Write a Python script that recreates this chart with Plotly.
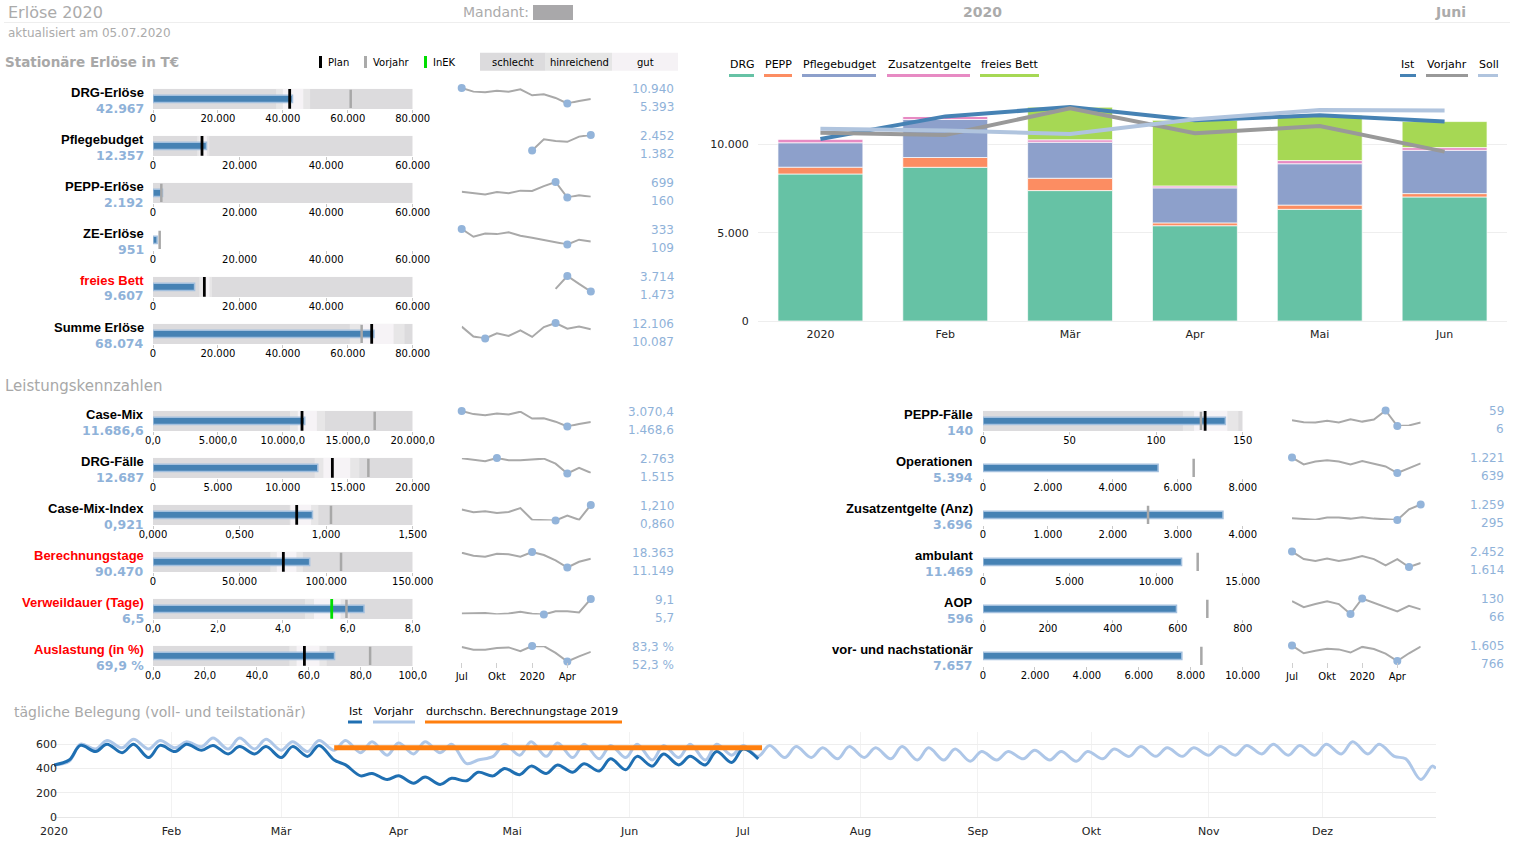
import numpy as np
import pandas as pd
import plotly.graph_objects as go

W, H = 1524, 850

# ------------------------------------------------------------------ data
spark_months = ["Jul", "Aug", "Sep", "Okt", "Nov", "Dez", "Jan", "Feb", "Mär", "Apr", "Mai", "Jun"]
spark_tick_idx = [0, 3, 6, 9]
spark_tick_text = ["Jul", "Okt", "2020", "Apr"]

# --- Stationäre Erlöse in T€
erl_names = ["DRG-Erlöse", "Pflegebudget", "PEPP-Erlöse", "ZE-Erlöse", "freies Bett", "Summe Erlöse"]
erl_red = [False, False, False, False, True, False]
erl_actual = [42967, 12357, 2192, 951, 9607, 68074]
erl_plan = [42105, 11320, None, None, 11860, 67370]
erl_vj = [60900, None, 1925, 1540, None, 64270]
erl_axmax = [80000, 60000, 60000, 60000, 60000, 80000]
erl_step = [20000, 20000, 20000, 20000, 20000, 20000]
erl_hin = [(37900, 48400), (10190, 13020), None, None, (10670, 13640), (60630, 77480)]
erl_gut = [(40000, 46300), (10750, 12450), None, None, (11270, 13050), (64000, 74110)]
erl_bg = [True, True, True, False, True, True]

spark_drg = [10940, 9642, 9406, 9996, 9642, 10468, 8320, 8698, 7380, 5393, 6320, 7020]
spark_pflege = [None, None, None, None, None, None, 1382, 2151, 2038, 1981, 2340, 2452]
spark_pepp = [357, 305, 264, 347, 305, 399, 385, 555, 699, 160, 240, 190]
spark_ze = [333, 221, 268, 259, 287, 236, 208, 175, 137, 109, 179, 151]
spark_fb = [None, None, None, None, None, None, None, None, 1849, 3714, 2566, 1473]
spark_summe = [11633, 10344, 10087, 10774, 10430, 11160, 10295, 11579, 12106, 11357, 11645, 11286]
erl_sparks = [spark_drg, spark_pflege, spark_pepp, spark_ze, spark_fb, spark_summe]

# --- Leistungskennzahlen (links)
lk_names = ["Case-Mix", "DRG-Fälle", "Case-Mix-Index", "Berechnungstage", "Verweildauer (Tage)", "Auslastung (in %)"]
lk_red = [False, False, False, True, True, True]
lk_actual = [11686.6, 12687, 0.921, 90470, 6.5, 69.9]
lk_plan = [11476, 13813, 0.830, 75290, 5.505, 58.3]
lk_plan_is_inek = [False, False, False, False, True, False]
lk_vj = [17073, 16586, 1.028, 108600, 5.96, 83.6]
lk_axmax = [20000, 20000, 1.5, 150000, 8, 100]
lk_step = [5000, 5000, 0.5, 50000, 2, 20]
lk_dec = [1, 0, 3, 0, 1, 1]
lk_suffix = ["", "", "", "", "", " %"]
lk_hin = [(10550, 13250), (12450, 15890), (0.79, 0.955), (67760, 86580), (4.68, 6.06), (52.5, 66.9)]
lk_gut = [(11150, 12620), (13120, 15190), (0.795, 0.913), (71530, 82820), (4.96, 5.78), (55.3, 64.1)]

spark_cm = [3070.4, 2750, 2643, 2821, 2714, 2999, 2288, 2323, 1967, 1468.6, 1718, 1931]
spark_drgf = [2738, 2636, 2508, 2763, 2585, 2585, 2636, 2712, 2304, 1515, 1974, 1566]
spark_cmi = [1.109, 1.047, 1.070, 1.031, 1.054, 1.140, 0.876, 0.868, 0.860, 0.969, 0.876, 1.210]
spark_bt = [18049, 16638, 16167, 17578, 17265, 16167, 18363, 16952, 14443, 11149, 13815, 15226]
spark_vwd = [5.93, 5.93, 6.01, 5.78, 5.93, 6.32, 5.85, 5.7, 6.40, 6.40, 6.16, 9.1]
spark_ausl = [81.2, 75.7, 75.7, 79.2, 80.5, 72.9, 83.3, 83.0, 69.5, 52.3, 62.6, 71.6]
lk_sparks = [spark_cm, spark_drgf, spark_cmi, spark_bt, spark_vwd, spark_ausl]

# --- Leistungskennzahlen (rechts)
rk_names = ["PEPP-Fälle", "Operationen", "Zusatzentgelte (Anz)", "ambulant", "AOP", "vor- und nachstationär"]
rk_actual = [140, 5394, 3696, 11469, 596, 7657]
rk_plan = [128.3, None, None, None, None, None]
rk_vj = [125.9, 6490, 2542, 12400, 691, 8408]
rk_axmax = [150, 8000, 4000, 15000, 800, 10000]
rk_step = [50, 2000, 1000, 5000, 200, 2000]
rk_hin = [(115.5, 147.5), None, None, None, None, None]
rk_gut = [(121.9, 141.1), None, None, None, None, None]
rk_bg = [True, False, False, False, False, False]

spark_peppf = [26, 19, 18, 24, 18, 29, 21, 28, 59, 6, 8, 18]
spark_op = [1221, 961, 1072, 1122, 1072, 961, 1085, 999, 887, 639, 813, 999]
spark_zeanz = [402, 338, 316, 445, 445, 381, 466, 381, 359, 295, 959, 1259]
spark_amb = [2452, 2042, 1935, 2078, 1935, 2042, 2202, 2042, 1703, 2042, 1614, 1828]
spark_aop = [119, 94, 107, 119, 107, 66, 130, 112, 97, 77, 100, 85]
spark_vn = [1605, 1185, 1319, 1433, 1395, 1223, 1529, 1414, 1166, 766, 1185, 1548]
rk_sparks = [spark_peppf, spark_op, spark_zeanz, spark_amb, spark_aop, spark_vn]

# --- Monatsverlauf 2020 (gestapelt)
bar_months = ["2020", "Feb", "Mär", "Apr", "Mai", "Jun"]
stack_names = ["DRG", "PEPP", "Pflegebudget", "Zusatzentgelte", "freies Bett"]
stack_drg = spark_drg[6:]
stack_pepp = spark_pepp[6:]
stack_pflege = spark_pflege[6:]
stack_ze = spark_ze[6:]
stack_fb = [0, 0] + spark_fb[8:]
line_ist = spark_summe[6:]
line_vorjahr = [10660, 10528, 12038, 10623, 11038, 9585]
line_soll = [10887, 10774, 10585, 11415, 11943, 11906]

# --- tägliche Belegung: Werte an Sonntagen (Tief) und Mittwochen (Hoch)
beleg_vj = [430,
            460, 600, 560, 630, 570, 640, 560, 630,            # Jan
            570, 620, 580, 650, 560, 650, 560, 640,            # Feb
            550, 620, 540, 630, 550, 630, 530, 620, 510, 610,  # Mär
            520, 620, 530, 600, 440, 470, 500, 600,            # Apr
            510, 620, 500, 610, 490, 600, 480, 590, 490, 600,  # Mai
            470, 590, 490, 600, 470, 600, 510, 590,            # Jun
            500, 590, 490, 580, 490, 570, 480, 580,            # Jul
            490, 570, 480, 580, 470, 570, 470, 560, 460, 540,  # Aug
            470, 540, 480, 550, 470, 540, 460, 540,            # Sep
            480, 560, 500, 580, 500, 570, 500, 570,            # Okt
            510, 580, 510, 590, 520, 600, 510, 590, 510, 600,  # Nov
            520, 620, 520, 600, 500, 480, 310, 420,            # Dez
            400]
beleg_ist = [430,
             470, 590, 540, 600, 530, 600, 490, 590,            # Jan
             540, 600, 550, 590, 520, 580, 520, 580,            # Feb
             490, 580, 500, 590, 470, 430, 340, 360, 310, 340,  # Mär
             280, 330, 270, 320, 300, 370, 340, 400,            # Apr
             350, 420, 360, 430, 370, 440, 380, 480, 390, 500,  # Mai
             420, 520, 430, 500, 430, 540, 450, 560,            # Jun
             480]                                               # Jul
beleg_bt2019 = 570
beleg_bt2019_span = ["2020-03-15", "2020-07-06"]
beleg_ticks = ["2020", "Feb", "Mär", "Apr", "Mai", "Jun", "Jul", "Aug", "Sep", "Okt", "Nov", "Dez"]

# ------------------------------------------------------------------ style
C_SCHLECHT = "#dcdbdd"
C_HIN = "#e7e6e7"
C_GUT = "#f6f3f6"
C_BAR = "#4682b4"
C_BAR_LINE = "#a3c0de"
C_LABEL = "#8fb2d9"
C_GREY_TXT = "#a8a8a8"
C_SPARK = "#a9a9a9"
STACK_COLORS = ["#66c2a5", "#fc8d62", "#8da0cb", "#e78ac3", "#a6d854"]
C_IST = "#4682b4"
C_VJ = "#999999"
C_SOLL = "#b0c4de"
FONT = "DejaVu Sans"
FONT_NAME = "Liberation Sans, Arial, sans-serif"

fig = go.Figure()
layout_axes = {}
annos = []
shapes = []
axis_count = [0]


def new_axes(xdom, ydom, xa, ya):
    axis_count[0] += 1
    n = axis_count[0]
    xn = "xaxis" if n == 1 else f"xaxis{n}"
    yn = "yaxis" if n == 1 else f"yaxis{n}"
    xr = "x" if n == 1 else f"x{n}"
    yr = "y" if n == 1 else f"y{n}"
    bx = dict(domain=[xdom[0] / W, xdom[1] / W], anchor=yr, showgrid=False, automargin=False,
              zeroline=False, fixedrange=True, showline=False)
    bx.update(xa)
    by = dict(domain=[1 - ydom[1] / H, 1 - ydom[0] / H], anchor=xr, showgrid=False, automargin=False,
              zeroline=False, fixedrange=True, showline=False)
    by.update(ya)
    layout_axes[xn] = bx
    layout_axes[yn] = by
    return xr, yr


def text(x, y, s, size=11, color="#000", xanchor="left", family=FONT, bold=False):
    annos.append(dict(x=x / W, y=1 - y / H, xref="paper", yref="paper",
                      text=f"<b>{s}</b>" if bold else s, showarrow=False,
                      xanchor=xanchor, yanchor="middle",
                      font=dict(size=size, color=color, family=family)))


def rect(x0, y0, x1, y1, color):
    shapes.append(dict(type="rect", xref="paper", yref="paper", x0=x0 / W, x1=x1 / W,
                       y0=1 - y1 / H, y1=1 - y0 / H, fillcolor=color, line=dict(width=0),
                       layer="above"))


def hline(x0, x1, y, color, width):
    shapes.append(dict(type="line", xref="paper", yref="paper", x0=x0 / W, x1=x1 / W,
                       y0=1 - y / H, y1=1 - y / H, line=dict(color=color, width=width)))


def fmt_de(v, dec=0, suffix=""):
    s = f"{v:,.{dec}f}"
    s = s.replace(",", "X").replace(".", ",").replace("X", ".")
    return s + suffix


def draw_bullet(top, x0, x1, axmax, step, dec, suf, actual, plan, vj, hin, gut, bg,
                plan_color="#000000"):
    tv = list(np.arange(0, axmax + step * 0.5, step))
    xr, yr = new_axes([x0, x1], [top, top + 20.3],
                      dict(range=[0, axmax], tickvals=tv, tickformat=f",.{dec}f", ticksuffix=suf,
                           ticks="outside", ticklen=3, tickcolor="#c8c8c8", ticklabelstandoff=-3,
                           tickfont=dict(size=10, color="#000", family=FONT)),
                      dict(range=[-0.5, 0.5], visible=False))
    common = dict(orientation="h", xaxis=xr, yaxis=yr, hoverinfo="skip")
    if bg:
        fig.add_trace(go.Bar(x=[axmax], y=[0], base=[0], width=[1],
                             marker=dict(color=C_SCHLECHT, line=dict(width=0)), **common))
    if hin is not None:
        fig.add_trace(go.Bar(x=[hin[1] - hin[0]], y=[0], base=[hin[0]], width=[1],
                             marker=dict(color=C_HIN, line=dict(width=0)), **common))
    if gut is not None:
        fig.add_trace(go.Bar(x=[gut[1] - gut[0]], y=[0], base=[gut[0]], width=[1],
                             marker=dict(color=C_GUT, line=dict(width=0)), **common))
    fig.add_trace(go.Bar(x=[actual], y=[0], base=[0], width=[0.36],
                         marker=dict(color=C_BAR, line=dict(color=C_BAR_LINE, width=1.5)), **common))
    if vj is not None:
        fig.add_trace(go.Scatter(x=[vj], y=[0], mode="markers", xaxis=xr, yaxis=yr, hoverinfo="skip",
                                 marker=dict(symbol="line-ns", size=13,
                                             line=dict(color="#a8a8a8", width=2.5))))
    if plan is not None:
        fig.add_trace(go.Scatter(x=[plan], y=[0], mode="markers", xaxis=xr, yaxis=yr, hoverinfo="skip",
                                 marker=dict(symbol="line-ns", size=14,
                                             line=dict(color=plan_color, width=2.8))))


def draw_spark(vals, top, x0, x1, dec, suf, lab_x, ticks_y=None):
    v = np.array([np.nan if a is None else a for a in vals], dtype=float)
    i_max, i_min = int(np.nanargmax(v)), int(np.nanargmin(v))
    vmax, vmin = v[i_max], v[i_min]
    if ticks_y is None:
        xa = dict(range=[0, 11], visible=False)
    else:
        xa = dict(range=[0, 11], visible=True, anchor="free", position=1 - ticks_y / H,
                  tickvals=spark_tick_idx, ticktext=spark_tick_text, ticks="outside",
                  ticklen=5, tickcolor="#cfcfcf", tickfont=dict(size=10, color="#000", family=FONT))
    xr, yr = new_axes([x0, x1], [top, top + 15.5], xa, dict(range=[vmin, vmax], visible=False))
    fig.add_trace(go.Scatter(x=list(range(len(v))), y=v, mode="lines", xaxis=xr, yaxis=yr,
                             line=dict(color=C_SPARK, width=2), connectgaps=False,
                             cliponaxis=False, hoverinfo="skip"))
    fig.add_trace(go.Scatter(x=[i_max, i_min], y=[vmax, vmin], mode="markers", xaxis=xr, yaxis=yr,
                             marker=dict(size=8, color="#93b4da"), cliponaxis=False, hoverinfo="skip"))
    text(lab_x, top + 0.8, fmt_de(vmax, dec, suf), size=12, color=C_LABEL, xanchor="right")
    text(lab_x, top + 18.8, fmt_de(vmin, dec, suf), size=12, color=C_LABEL, xanchor="right")


# ------------------------------------------------------------------ header
text(6, 12, "Erlöse 2020", size=16, color="#ababab")
text(6, 33, "aktualisiert am 05.07.2020", size=12, color="#ababab")
text(531, 12, "Mandant:", size=14, color="#ababab", xanchor="right")
rect(533, 5, 573, 20, "#a9a8aa")
text(982, 12, "2020", size=14, color="#ababab", xanchor="center", bold=True)
text(1450, 12, "Juni", size=14, color="#ababab", xanchor="center", bold=True)
hline(4, 1510, 22.5, "#eeeeee", 1)

# ------------------------------------------------------------------ section 1
text(3, 62, "Stationäre Erlöse in T€", size=13.5, color=C_GREY_TXT, bold=True)
rect(319, 56, 322, 68, "#000000")
text(326, 62, "Plan", size=10)
rect(364, 56, 367, 68, "#aaaaaa")
text(371, 62, "Vorjahr", size=10)
rect(424, 56, 427, 68, "#00dd00")
text(431, 62, "InEK", size=10)
rect(480, 52.7, 545.7, 70.7, C_SCHLECHT)
rect(545.7, 52.7, 612, 70.7, "#e6e6e6")
rect(612, 52.7, 678, 70.7, "#f5f2f5")
text(513, 62, "schlecht", size=10, xanchor="center")
text(579, 62, "hinreichend", size=10, xanchor="center")
text(645, 62, "gut", size=10, xanchor="center")

for k in range(6):
    top = 88.7 + 47 * k
    draw_bullet(top, 153, 412.7, erl_axmax[k], erl_step[k], 0, "", erl_actual[k], erl_plan[k],
                erl_vj[k], erl_hin[k], erl_gut[k], erl_bg[k])
    text(146, top + 3.5, erl_names[k], size=13, color="#ff0000" if erl_red[k] else "#000",
         xanchor="right", family=FONT_NAME, bold=True)
    text(146, top + 19.3, fmt_de(erl_actual[k]), size=12.5, color=C_LABEL, xanchor="right", bold=True)
    draw_spark(erl_sparks[k], 88 + 47 * k, 461.7, 590.8, 0, "", 676)

# ------------------------------------------------------------------ section 2 (links)
text(3, 386, "Leistungskennzahlen", size=15, color=C_GREY_TXT)
for k in range(6):
    top = 410.7 + 47 * k
    draw_bullet(top, 153, 412.7, lk_axmax[k], lk_step[k], lk_dec[k], lk_suffix[k], lk_actual[k],
                lk_plan[k], lk_vj[k], lk_hin[k], lk_gut[k], True,
                plan_color="#00dd00" if lk_plan_is_inek[k] else "#000000")
    text(146, top + 3.5, lk_names[k], size=13, color="#ff0000" if lk_red[k] else "#000",
         xanchor="right", family=FONT_NAME, bold=True)
    text(146, top + 19.3, fmt_de(lk_actual[k], lk_dec[k], lk_suffix[k]), size=12.5, color=C_LABEL,
         xanchor="right", bold=True)
    draw_spark(lk_sparks[k], 411 + 47 * k, 461.7, 590.8, lk_dec[k], lk_suffix[k], 676,
               ticks_y=662 if k == 5 else None)

# ------------------------------------------------------------------ section 3 (rechts)
for k in range(6):
    top = 410.7 + 47 * k
    draw_bullet(top, 983, 1242.7, rk_axmax[k], rk_step[k], 0, "", rk_actual[k], rk_plan[k],
                rk_vj[k], rk_hin[k], rk_gut[k], rk_bg[k])
    text(975, top + 3.5, rk_names[k], size=13, color="#000", xanchor="right", family=FONT_NAME, bold=True)
    text(975, top + 19.3, fmt_de(rk_actual[k]), size=12.5, color=C_LABEL, xanchor="right", bold=True)
    draw_spark(rk_sparks[k], 410.5 + 47 * k, 1292, 1420.7, 0, "", 1506,
               ticks_y=662 if k == 5 else None)

# ------------------------------------------------------------------ stacked monthly chart
xr, yr = new_axes([758, 1507], [95, 321],
                  dict(type="category", categoryorder="array", categoryarray=bar_months,
                       tickfont=dict(size=11, color="#222", family=FONT), ticks="outside", ticklen=3,
                       tickcolor="rgba(0,0,0,0)", showline=True, linecolor="#eeeeee"),
                  dict(range=[0, 12790], tickvals=[0, 5000, 10000], tickformat=",.0f", showgrid=True,
                       gridcolor="#eeeeee", tickfont=dict(size=11, color="#222", family=FONT),
                       ticks="outside", ticklen=6, tickcolor="rgba(0,0,0,0)"))
cum = np.zeros(len(bar_months))
for name, vals, col in zip(stack_names, [stack_drg, stack_pepp, stack_pflege, stack_ze, stack_fb],
                           STACK_COLORS):
    arr = np.array(vals, dtype=float)
    fig.add_trace(go.Bar(x=bar_months, y=arr, base=cum.copy(), width=0.68, name=name, xaxis=xr, yaxis=yr,
                         marker=dict(color=col, line=dict(color="rgba(255,255,255,0.7)", width=1)),
                         hoverinfo="skip"))
    cum = cum + arr
for vals, col in [(line_ist, C_IST), (line_vorjahr, C_VJ), (line_soll, C_SOLL)]:
    fig.add_trace(go.Scatter(x=bar_months, y=vals, mode="lines", xaxis=xr, yaxis=yr,
                             line=dict(color=col, width=4), hoverinfo="skip"))

leg_left = [("DRG", 729, 754), ("PEPP", 764, 792), ("Pflegebudget", 802, 876),
            ("Zusatzentgelte", 887, 970), ("freies Bett", 980, 1039)]
for (lab, a, b), col in zip(leg_left, STACK_COLORS):
    text(a - 1, 65, lab, size=11)
    hline(a, b, 75.5, col, 3)
for (lab, a, b), col in zip([("Ist", 1400, 1416), ("Vorjahr", 1426, 1468), ("Soll", 1478, 1498)],
                            [C_IST, C_VJ, C_SOLL]):
    text(a - 1, 65, lab, size=11)
    hline(a, b, 75.5, col, 3)

# ------------------------------------------------------------------ daily occupancy
week_x = []
for k in range(52):
    s = pd.Timestamp("2020-01-05") + pd.Timedelta(days=7 * k)
    week_x += [s, s + pd.Timedelta(days=3)]
vj_x = [pd.Timestamp("2020-01-01")] + week_x + [pd.Timestamp("2020-12-31")]
ist_x = [pd.Timestamp("2020-01-01")] + week_x[:len(beleg_ist) - 1]

month_starts = pd.date_range("2020-01-01", periods=12, freq="MS")
xr, yr = new_axes([54, 1436], [732, 817.3],
                  dict(type="date", range=["2020-01-01", "2020-12-31"], tickvals=month_starts,
                       ticktext=beleg_ticks, showgrid=True, gridcolor="#f2f2f2", showline=True,
                       linecolor="#e6e6e6", ticks="outside", ticklen=3, tickcolor="rgba(0,0,0,0)",
                       tickfont=dict(size=11, color="#222", family=FONT)),
                  dict(range=[0, 700], tickvals=[0, 200, 400, 600], showgrid=True, gridcolor="#eeeeee",
                       tickfont=dict(size=11, color="#222", family=FONT), ticks="", ticklen=0,
                       ticklabelstandoff=-4))
fig.add_trace(go.Scatter(x=vj_x, y=beleg_vj, mode="lines", xaxis=xr, yaxis=yr, hoverinfo="skip",
                         line=dict(color="#aec7e8", width=3, shape="spline", smoothing=1.0)))
fig.add_trace(go.Scatter(x=ist_x, y=beleg_ist, mode="lines", xaxis=xr, yaxis=yr, hoverinfo="skip",
                         line=dict(color="#1f6fb2", width=3, shape="spline", smoothing=1.0)))
fig.add_trace(go.Scatter(x=beleg_bt2019_span, y=[beleg_bt2019, beleg_bt2019], mode="lines",
                         xaxis=xr, yaxis=yr, hoverinfo="skip",
                         line=dict(color="#ff7f0e", width=5)))

text(12, 712, "tägliche Belegung (voll- und teilstationär)", size=14, color=C_GREY_TXT)
for lab, a, b, col in [("Ist", 348, 362, "#1f6fb2"), ("Vorjahr", 373, 415, "#aec7e8"),
                       ("durchschn. Berechnungstage 2019", 425, 622, "#ff7f0e")]:
    text(a - 1, 711, lab, size=11)
    hline(a, b, 722, col, 3)

# ------------------------------------------------------------------ layout
fig.update_layout(**layout_axes)
fig.update_layout(width=W, height=H, margin=dict(l=0, r=0, t=0, b=0, pad=0, autoexpand=False),
                  autosize=False,
                  paper_bgcolor="white", plot_bgcolor="white", showlegend=False,
                  barmode="overlay", separators=",.", hovermode=False,
                  font=dict(family=FONT, size=11, color="#000"),
                  annotations=annos, shapes=shapes)

fig.write_html("out.html", config={"displayModeBar": False, "staticPlot": True},
               post_script="document.body.style.margin='0';document.body.style.overflow='hidden';")
